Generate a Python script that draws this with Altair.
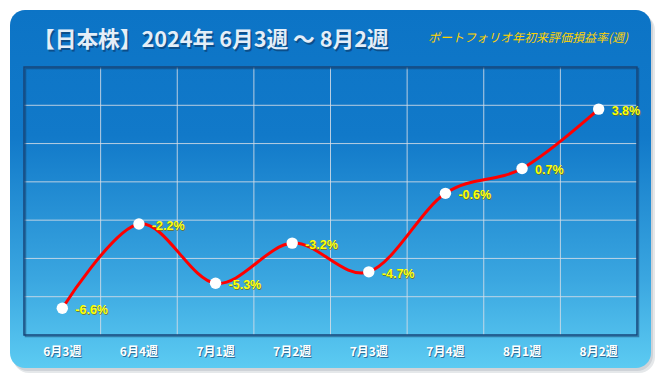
import altair as alt
import pandas as pd

weeks = ["6月3週", "6月4週", "7月1週", "7月2週", "7月3週", "7月4週", "8月1週", "8月2週"]
values = [-6.6, -2.2, -5.3, -3.2, -4.7, -0.6, 0.7, 3.8]
labels = ["-6.6%", "-2.2%", "-5.3%", "-3.2%", "-4.7%", "-0.6%", "0.7%", "3.8%"]
grid_y = [-6, -4, -2, 0, 2, 4]
title_text = "【日本株】2024年 6月3週 ～ 8月2週"
subtitle_text = "ポートフォリオ年初来評価損益率(週)"

W, H = 613, 268
df = pd.DataFrame({"week": weeks, "value": values, "label": labels})
one = pd.DataFrame({"a": [0]})

xs = alt.Scale(type="band", domain=weeks, paddingInner=0, paddingOuter=0)
ys = alt.Scale(domain=[-8, 6], nice=False, zero=False)
X = alt.X("week:N", scale=xs, axis=None, sort=weeks)
Y = alt.Y("value:Q", scale=ys, axis=None)

def box(x1, x2, y1, y2, **kw):
    return alt.Chart(one).mark_rect(**kw).encode(
        x=alt.value(x1), x2=alt.value(x2), y=alt.value(y1), y2=alt.value(y2))

shadow1 = box(-11, 631, -53, 306, fill="#d4d8dc", cornerRadius=16, opacity=0.6)
shadow2 = box(-12, 629, -55, 304, fill="#bfc5cb", cornerRadius=16, opacity=0.6)
card = box(-14, 627, -57, 301, cornerRadius=15, fill=alt.Gradient(
    gradient="linear", x1=0, x2=0, y1=0, y2=1,
    stops=[alt.GradientStop(color="#0c74c6", offset=0),
           alt.GradientStop(color="#1179c9", offset=0.35),
           alt.GradientStop(color="#3aa6e0", offset=0.75),
           alt.GradientStop(color="#5ccbf2", offset=1)]))

border_sh = box(1.5, W + 1.5, 1.5, H + 1.5, fill=None, stroke="#123a66", strokeWidth=1.5, opacity=0.5)
border = box(0, W, 0, H, fill=None, stroke="#17467a", strokeWidth=1.5)

vgrid = alt.Chart(pd.DataFrame({"week": weeks[1:]})).mark_rule(
    color="#d6dde6", strokeWidth=1, opacity=0.85).encode(
    x=alt.X("week:N", scale=xs, axis=None, sort=weeks, bandPosition=0))
hgrid = alt.Chart(pd.DataFrame({"value": grid_y})).mark_rule(
    color="#d6dde6", strokeWidth=1, opacity=0.85).encode(y=Y)

line = alt.Chart(df).mark_line(color="#ff0000", strokeWidth=3, interpolate="cardinal").encode(x=X, y=Y)
pts = alt.Chart(df).mark_point(filled=True, color="white", size=130, opacity=1).encode(x=X, y=Y)

lab_sh = alt.Chart(df).mark_text(align="left", baseline="middle", dx=14, dy=3, font="Liberation Sans",
                                 fontWeight="bold", fontSize=12.5, color="#7a6a00", opacity=0.7).encode(
    x=X, y=Y, text="label:N")
lab = alt.Chart(df).mark_text(align="left", baseline="middle", dx=13, dy=2, font="Liberation Sans",
                              fontWeight="bold", fontSize=12.5, color="#ffff00").encode(
    x=X, y=Y, text="label:N")

xl_sh = alt.Chart(df).mark_text(baseline="middle", font="Noto Sans CJK JP", fontWeight="bold",
                                fontSize=12, color="#1d4e78", opacity=0.7, dx=1, dy=1).encode(
    x=X, y=alt.value(285), text="week:N")
xl = alt.Chart(df).mark_text(baseline="middle", font="Noto Sans CJK JP", fontWeight="bold",
                             fontSize=12, color="white").encode(
    x=X, y=alt.value(285), text="week:N")

t_sh = alt.Chart(one).mark_text(text=title_text, align="left", baseline="middle", font="Noto Sans CJK JP",
                                fontWeight="bold", fontSize=21.7, color="#0a3563", opacity=0.6).encode(
    x=alt.value(10.5), y=alt.value(-25.5))
t = alt.Chart(one).mark_text(text=title_text, align="left", baseline="middle", font="Noto Sans CJK JP",
                             fontWeight="bold", fontSize=21.7, color="#e4eef8").encode(
    x=alt.value(9), y=alt.value(-27))
sub = alt.Chart(one).mark_text(text=subtitle_text, align="right", baseline="middle", font="Noto Sans CJK JP",
                               fontStyle="italic", fontSize=12, color="#ffd200").encode(
    x=alt.value(604), y=alt.value(-29))

chart = alt.layer(shadow1, shadow2, card, hgrid, vgrid, border_sh, border, line, pts,
                  lab_sh, lab, xl_sh, xl, t_sh, t, sub).properties(
    width=W, height=H,
    autosize=alt.AutoSizeParams(type="none"),
    padding={"left": 16, "top": 59, "right": 20, "bottom": 40},
    background="white",
).configure_view(stroke=None)

chart.save("out.html", embed_options={"renderer": "svg", "actions": False})
